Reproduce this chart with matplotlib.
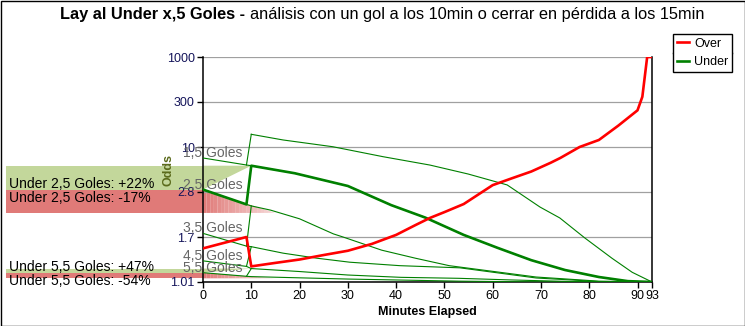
import numpy as np
import matplotlib.pyplot as plt
from matplotlib.patches import Polygon, Rectangle
from matplotlib.transforms import blended_transform_factory
from matplotlib.lines import Line2D

plt.rcParams['font.family'] = ['Liberation Sans', 'DejaVu Sans']

# escala del eje Y (marcas equidistantes)
y_ticks = [1.01, 1.7, 2.8, 10, 300, 1000]
y_labels = ['1.01', '1.7', '2.8', '10', '300', '1000']
x_ticks = [0, 10, 20, 30, 40, 50, 60, 70, 80, 90, 93]

# Over 2,5 (gol a los 10min)
over_t = [0, 9, 10, 15, 20, 25, 30, 35, 40, 44, 47, 50, 54, 60, 64, 68, 72, 74, 78, 82, 86, 90, 91, 92, 93]
over_v = [1.49, 1.70, 1.21, 1.26, 1.31, 1.38, 1.45, 1.57, 1.74, 1.94, 2.10, 2.24, 2.45, 3.40, 4.13, 5.0, 6.4,
          7.33, 10, 17, 50, 160, 345, 1000, 1000]

# cuotas del Under sin gol para cada linea
u05_t = [10, 16.6, 26.9, 37.3, 47, 54.9, 63, 69.8, 73.9, 79.1, 84.7, 88.9, 93]
u05_v = [26.1, 17.0, 10.2, 7.6, 6.0, 4.66, 3.42, 2.37, 2.10, 1.68, 1.33, 1.13, 1.01]
u15_t = [0, 9, 10, 19, 30, 39, 46, 54, 61, 68, 75, 82, 88, 93]
u15_v = [7.33, 6.01, 5.89, 4.76, 3.32, 2.42, 2.11, 1.74, 1.50, 1.30, 1.16, 1.07, 1.02, 1.01]
u25_t = [0, 9, 10, 14, 20, 27, 29, 37, 44, 51, 69, 82, 93]
u25_v = [3.0, 2.44, 2.40, 2.29, 2.08, 1.76, 1.70, 1.46, 1.33, 1.22, 1.07, 1.02, 1.01]
u35_t = [0, 9, 10, 16.6, 23.6, 30.4, 40.8, 53.2, 69, 82, 93]
u35_v = [1.77, 1.53, 1.52, 1.41, 1.33, 1.27, 1.22, 1.19, 1.058, 1.015, 1.01]
u45_t = [0, 9, 10, 20, 30, 41, 53, 64, 78, 93]
u45_v = [1.29, 1.21, 1.18, 1.14, 1.095, 1.066, 1.054, 1.034, 1.013, 1.01]
u55_t = [0, 9, 10, 20, 30, 53, 70, 93]
u55_v = [1.125, 1.079, 1.075, 1.06, 1.045, 1.02, 1.01, 1.01]

line_names = ['1,5 Goles', '2,5 Goles', '3,5 Goles', '4,5 Goles', '5,5 Goles']

# bandas: apertura, gol a los 10min, cierre a los 15min
band_names = ['Under 2,5 Goles', 'Under 5,5 Goles']
band_up = ['+22%', '+47%']
band_down = ['-17%', '-54%']
band_open = [3.0, 1.125]
band_goal = [5.89, 1.18]
band_close = [2.22, 1.054]
goal_min = 10
close_min = 15

logt = np.log(y_ticks)
pos = np.arange(len(y_ticks))


def fwd(v):
    return np.interp(np.log(np.clip(v, 1e-6, None)), logt, pos)


def inv(p):
    return np.exp(np.interp(p, pos, logt))


fig = plt.figure(figsize=(7.45, 3.26), dpi=100)
ax = fig.add_axes([203 / 745, 1 - 282 / 326, 449 / 745, 225 / 326])
ax.set_yscale('function', functions=(fwd, inv))
ax.set_xlim(0, 93)
ax.set_ylim(1.01, 1000)

green = '#008000'
red = '#ff0000'
gband = '#c3d79b'
rband = '#e07a78'

# bandas a la izquierda
bt = blended_transform_factory(ax.transAxes, ax.transData)
for i in range(2):
    o, g, c = band_open[i], band_goal[i], band_close[i]
    ax.add_patch(Polygon([(-0.439, g), (0, g), (0, o), (-0.439, o)], closed=True, transform=bt,
                         facecolor=gband, edgecolor='none', clip_on=False, zorder=0.5))
    ax.add_patch(Polygon([(-0.439, o), (0, o), (0, c), (-0.439, c)], closed=True, transform=bt,
                         facecolor=rband, edgecolor='none', clip_on=False, zorder=0.5))
    ax.add_patch(Polygon([(0, g), (goal_min, g), (0, o)], closed=True,
                         facecolor=gband, edgecolor='none', zorder=0.5))
    # triangulo rojo que se desvanece
    n = 20
    for k in range(n):
        x0 = close_min * k / n
        x1 = close_min * (k + 1) / n
        lo = fwd(c)
        top0 = fwd(o) + (lo - fwd(o)) * k / n
        top1 = fwd(o) + (lo - fwd(o)) * (k + 1) / n
        ax.add_patch(Polygon([(x0, inv(top0)), (x1, inv(top1)), (x1, c), (x0, c)], closed=True,
                             facecolor=rband, edgecolor='none', alpha=1 - 0.75 * k / n, zorder=0.5))
    ax.annotate(f'{band_names[i]}: {band_up[i]}', xy=(-0.432, o), xycoords=bt,
                xytext=(0, 2), textcoords='offset pixels', va='baseline', ha='left',
                fontsize=10, color='black', annotation_clip=False)
    ax.annotate(f'{band_names[i]}: {band_down[i]}', xy=(-0.432, o), xycoords=bt,
                xytext=(0, -1), textcoords='offset pixels', va='top', ha='left',
                fontsize=10, color='black', annotation_clip=False)

curves = [(u15_t, u15_v), (u25_t, u25_v), (u35_t, u35_v), (u45_t, u45_v), (u55_t, u55_v)]
prev = [(u05_t, u05_v)] + curves[:-1]

ax.plot(u05_t, u05_v, color=green, lw=0.8, zorder=3)
for i, (t, v) in enumerate(curves):
    ax.plot(t, v, color=green, lw=0.8, zorder=3)
    if i != 1:
        pt, pv = prev[i]
        ax.plot([9, 10], [np.interp(9, t, v), np.interp(10, pt, pv)], color=green, lw=0.8, zorder=3)
    ax.annotate(line_names[i], xy=(0, v[0]), xytext=(-20, 5), textcoords='offset pixels',
                va='center', ha='left', fontsize=10, color='#666666', zorder=4, annotation_clip=False)

# Under 2,5 con gol a los 10min
ut = [t for t in u25_t if t <= 9] + [t for t in u15_t if t >= 10]
uv = [v for t, v in zip(u25_t, u25_v) if t <= 9] + [v for t, v in zip(u15_t, u15_v) if t >= 10]
ax.plot(ut, uv, color=green, lw=1.9, zorder=5, label='Under')
ax.plot(over_t, over_v, color=red, lw=1.9, zorder=5, label='Over')

ax.set_yticks(y_ticks)
ax.set_yticklabels(y_labels)
ax.yaxis.set_minor_locator(plt.NullLocator())
ax.set_xticks(x_ticks)
ax.tick_params(axis='both', direction='out', length=4, width=1, labelsize=9, pad=2)
ax.tick_params(axis='y', labelcolor='#14145a')
ax.grid(axis='y', color='#a0a0a0', lw=0.9)
ax.set_axisbelow(True)
ax.spines['top'].set_visible(False)
for s in ['left', 'bottom', 'right']:
    ax.spines[s].set_linewidth(1.1)
ax.set_ylabel('Odds', fontsize=9, fontweight='bold', color='#5b6b1c', labelpad=-6)
ax.set_xlabel('Minutes Elapsed', fontsize=9, fontweight='bold', labelpad=3)

h, l = ax.get_legend_handles_labels()
leg = fig.legend(h[::-1], l[::-1], loc='upper left', bbox_to_anchor=(673 / 745, 1 - 34 / 326),
                 fontsize=9, frameon=True, fancybox=False, edgecolor='black', framealpha=1,
                 handlelength=1.0, handletextpad=0.4, borderpad=0.3, labelspacing=0.5,
                 borderaxespad=0)
leg.get_frame().set_linewidth(1)

# titulo: parte en negrita + parte normal
t1 = fig.text(60 / 745, 1 - 14 / 326, 'Lay al Under x,5 Goles - ', fontsize=11.8, fontweight='bold', va='center')
fig.canvas.draw()
r = fig.canvas.get_renderer()
bb = t1.get_window_extent(r)
fig.text(bb.x1 / 745, 1 - 14 / 326, 'análisis con un gol a los 10min o cerrar en pérdida a los 15min',
         fontsize=11.8, va='center')

# separador de la leyenda
lb = leg.get_window_extent(r)
ymid = (lb.y0 + lb.y1) / 2
fig.add_artist(Line2D([lb.x0 / 745, lb.x1 / 745], [ymid / 326, ymid / 326], color='black', lw=1,
                      transform=fig.transFigure))

fig.add_artist(Rectangle((0.5 / 745, 0.5 / 326), 744 / 745, 325 / 326, transform=fig.transFigure,
                         fill=False, edgecolor='black', lw=1))

fig.savefig('out.png', dpi=100)
